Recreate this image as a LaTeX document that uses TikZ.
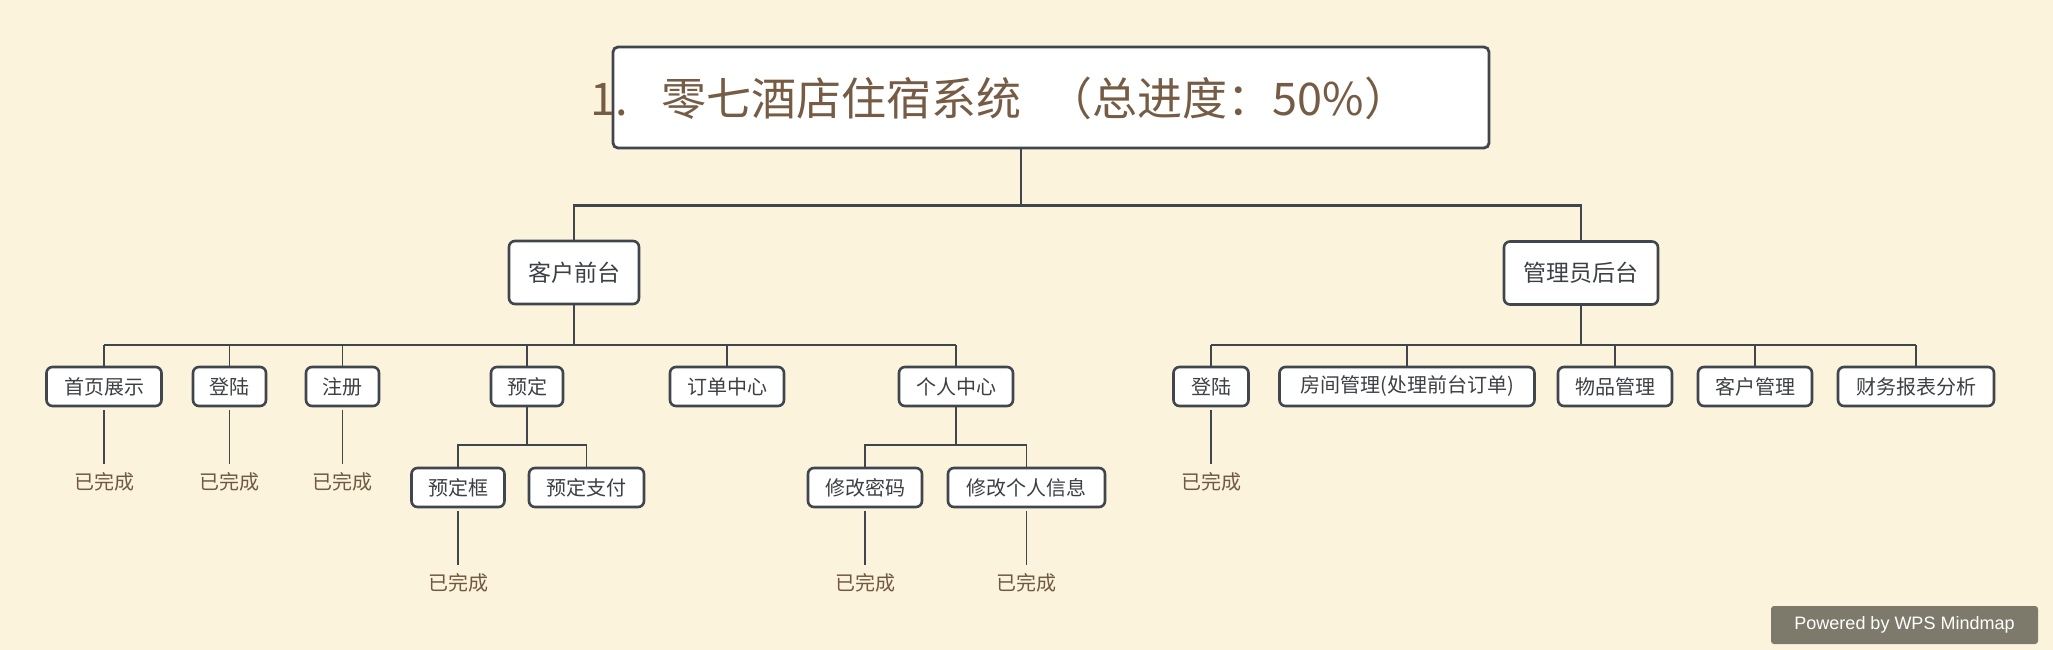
\documentclass[tikz,border=0pt]{standalone}
\usepackage{fontspec}
\setmainfont{Noto Sans CJK SC}
\newfontfamily\pfont{Liberation Sans}
\definecolor{bg}{RGB}{251,243,220}
\definecolor{edge}{RGB}{64,70,77}
\definecolor{txt}{RGB}{60,64,68}
\definecolor{done}{RGB}{112,88,66}
\definecolor{roottxt}{RGB}{118,92,68}
\definecolor{pbox}{RGB}{125,122,108}
\begin{document}
\begin{tikzpicture}[x=1pt,y=-1pt,
  box/.style={draw=edge, line width=2.6pt, rounded corners=6pt, fill=white, text=txt, inner sep=0pt, minimum height=39pt, font=\fontsize{20}{20}\selectfont},
  midbox/.style={box, minimum height=63pt, font=\fontsize{23}{23}\selectfont},
  donelbl/.style={text=done, inner sep=0pt, font=\fontsize{20}{20}\selectfont},
  trunk/.style={draw=edge, line width=2.8pt},
  branch/.style={draw=edge, line width=2.2pt},
  leaf/.style={draw=edge, line width=1.3pt}]
\fill[bg] (0,0) rectangle (2053,650);
\useasboundingbox (0,0) rectangle (2053,650);

% root
\node[box, line width=2.8pt, rounded corners=5pt, minimum width=876pt, minimum height=101pt] (root) at (1051,97.5) {};
\node[text=roottxt, inner sep=0pt, anchor=west, font=\fontsize{45}{45}\selectfont] (title) at (590,98) {1.\hspace{34pt}零七酒店住宿系统\hspace{26pt}（总进度：50\%）};
\coordinate (rt) at (1021,148);
\coordinate (j0) at (1021,205.5);

% level 2
\node[midbox, minimum width=130pt] (kh) at (574,272.5) {客户前台};
\node[midbox, minimum width=154pt] (gl) at (1581,273) {管理员后台};

\draw[trunk] (rt) -- (j0);
\draw[trunk] (kh.north) |- (j0) -| (gl.north);

% level 3 left
\node[box, minimum width=115pt] (a1) at (104,386.5) {首页展示};
\node[box, minimum width=73pt] (a2) at (229.5,386.5) {登陆};
\node[box, minimum width=73pt] (a3) at (342.5,386.5) {注册};
\node[box, minimum width=72pt] (a4) at (527,386.5) {预定};
\node[box, minimum width=114pt] (a5) at (727,386.5) {订单中心};
\node[box, minimum width=114pt] (a6) at (956,386.5) {个人中心};

% level 3 right
\node[box, minimum width=75pt] (b1) at (1211,386.5) {登陆};
\node[box, minimum width=255pt] (b2) at (1407,386.5) {房间管理(处理前台订单)};
\node[box, minimum width=114pt] (b3) at (1615,386.5) {物品管理};
\node[box, minimum width=114pt] (b4) at (1755,386.5) {客户管理};
\node[box, minimum width=156pt] (b5) at (1916,386.5) {财务报表分析};

\coordinate (hk) at (574,345);
\coordinate (hg) at (1581,345);
\draw[branch] (kh.south) -- (hk);
\draw[branch] (a1.north |- hk) -- (a6.north |- hk);
\foreach \n in {a1,a2,a3,a4,a5,a6} \draw[leaf] (\n.north) -- (\n.north |- hk);
\draw[branch] (gl.south) -- (hg);
\draw[branch] (b1.north |- hg) -- (b5.north |- hg);
\foreach \n in {b1,b2,b3,b4,b5} \draw[leaf] (\n.north) -- (\n.north |- hg);

% level 4
\node[box, minimum width=93pt] (c1) at (458,487.5) {预定框};
\node[box, minimum width=115pt] (c2) at (586.5,487.5) {预定支付};
\node[box, minimum width=114pt] (c3) at (865,487.5) {修改密码};
\node[box, minimum width=157pt] (c4) at (1026.5,487.5) {修改个人信息};

\coordinate (hy) at (527,445);
\coordinate (hp) at (956,445);
\draw[leaf] (a4.south) -- (hy);
\draw[leaf] (c1.north) |- (hy) -| (c2.north);
\draw[leaf] (a6.south) -- (hp);
\draw[leaf] (c3.north) |- (hp) -| (c4.north);

% done labels
\node[donelbl] (d1) at (104,482) {已完成};
\node[donelbl] (d2) at (229.5,482) {已完成};
\node[donelbl] (d3) at (342.5,482) {已完成};
\node[donelbl] (d4) at (1211,482) {已完成};
\node[donelbl] (e1) at (458,583) {已完成};
\node[donelbl] (e2) at (865,583) {已完成};
\node[donelbl] (e3) at (1026.5,583) {已完成};

\foreach \p/\q in {a1/d1,a2/d2,a3/d3,b1/d4,c1/e1,c3/e2,c4/e3}
  \draw[leaf, shorten <=3pt, shorten >=8pt] (\p.south) -- (\q.north);

% footer
\node[fill=pbox, rounded corners=3pt, text=white, inner sep=0pt, minimum width=267pt, minimum height=38pt, font=\pfont\fontsize{18}{18}\selectfont] (pw) at (1904.5,625) {Powered by WPS Mindmap};
\end{tikzpicture}
\end{document}
